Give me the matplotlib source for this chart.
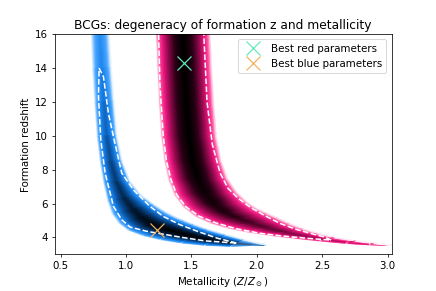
import numpy as np
import matplotlib
matplotlib.use('Agg')
import matplotlib.pyplot as plt
from matplotlib.colors import LinearSegmentedColormap

# Banda azul: borda esquerda/inferior (L) e direita/superior (R), pontos pareados
blue_L_Z = [0.732, 0.742, 0.758, 0.777, 0.800, 0.825, 0.855, 0.890, 0.940, 1.010, 1.120, 1.260, 1.420, 1.600, 1.800, 2.070]
blue_L_zf = [16.0, 14.0, 12.0, 10.0, 8.5, 7.3, 6.2, 5.4, 4.85, 4.42, 4.10, 3.85, 3.65, 3.52, 3.46, 3.56]
blue_R_Z = [0.879, 0.893, 0.913, 0.935, 0.975, 1.035, 1.120, 1.220, 1.300, 1.380, 1.450, 1.520, 1.620, 1.760, 1.900, 2.070]
blue_R_zf = [16.0, 14.0, 12.0, 10.0, 8.5, 7.3, 6.5, 5.95, 5.55, 5.22, 5.0, 4.78, 4.5, 4.18, 3.88, 3.56]
blue_depth = [0.78, 0.72, 0.64, 0.55, 0.46, 0.38, 0.3, 0.22, 0.14, 0.07, 0.02, 0.0, 0.04, 0.1, 0.3, 0.9]

# Banda rosa
red_L_Z = [1.225, 1.236, 1.248, 1.265, 1.29, 1.32, 1.365, 1.43, 1.52, 1.63, 1.76, 1.91, 2.08, 2.27, 2.48, 2.68, 2.86, 3.03]
red_L_zf = [16.0, 14.0, 12.0, 10.0, 8.5, 7.4, 6.5, 5.8, 5.25, 4.85, 4.55, 4.32, 4.12, 3.95, 3.78, 3.64, 3.56, 3.54]
red_R_Z = [1.648, 1.660, 1.675, 1.695, 1.73, 1.78, 1.85, 1.93, 2.01, 2.09, 2.17, 2.26, 2.36, 2.47, 2.60, 2.76, 2.90, 3.03]
red_R_zf = [16.0, 14.0, 12.0, 10.0, 8.6, 7.5, 6.7, 6.1, 5.7, 5.42, 5.15, 4.82, 4.52, 4.25, 4.00, 3.80, 3.66, 3.54]
red_depth = [0.0, 0.0, 0.0, 0.0, 0.0, 0.03, 0.08, 0.14, 0.2, 0.26, 0.32, 0.38, 0.44, 0.5, 0.56, 0.63, 0.72, 0.92]

# Contornos tracejados (1 sigma)
blue_cont_Z = [0.795, 0.828, 0.866, 0.910, 0.968, 1.057, 1.184, 1.286, 1.413, 1.55, 1.70, 1.85,
               1.60, 1.413, 1.159, 1.032, 0.968, 0.905, 0.841, 0.808, 0.790, 0.795]
blue_cont_zf = [14.0, 13.5, 11.34, 9.76, 7.8, 6.81, 5.83, 5.24, 4.75, 4.35, 3.95, 3.66,
                3.80, 4.02, 4.36, 4.61, 5.04, 5.83, 7.8, 9.76, 12.32, 14.0]
red_cont_Z = [1.25, 1.26, 1.285, 1.31, 1.345, 1.39, 1.46, 1.56, 1.69, 1.84, 2.02, 2.20, 2.40, 2.57,
              2.52, 2.42, 2.30, 2.18, 2.07, 1.95, 1.86, 1.78, 1.72, 1.66, 1.62, 1.595]
red_cont_zf = [16.0, 13.0, 10.0, 8.5, 7.4, 6.5, 5.8, 5.25, 4.85, 4.52, 4.25, 4.08, 3.94, 3.84,
               4.02, 4.22, 4.48, 4.82, 5.25, 5.78, 6.3, 6.9, 7.8, 9.5, 12.0, 16.0]

# Melhores parametros
best_red = (1.444, 14.3)
best_blue = (1.236, 4.45)

cmap_blue = LinearSegmentedColormap.from_list('azul', [
    (0.0, 'black'), (0.25, '#021c38'), (0.5, '#0a4f98'), (0.72, '#1a84ee'),
    (0.88, '#4aa8ff'), (1.0, 'white')])
cmap_red = LinearSegmentedColormap.from_list('rosa', [
    (0.0, 'black'), (0.25, '#2a0015'), (0.5, '#900a4c'), (0.7, '#e8157d'),
    (0.86, '#ff4d9e'), (1.0, 'white')])


def banda(ax, LZ, Lzf, RZ, Rzf, depth, cmap, ncol=41, p=1.2):
    LZ, Lzf, RZ, Rzf = map(np.asarray, (LZ, Lzf, RZ, Rzf))
    d = np.asarray(depth)[:, None]
    t = np.linspace(0, 1, ncol)[None, :]
    X = LZ[:, None] + (RZ - LZ)[:, None] * t
    Y = Lzf[:, None] + (Rzf - Lzf)[:, None] * t
    C = d + (1 - d) * np.abs(2 * t - 1) ** p
    ax.pcolormesh(X, Y, C, cmap=cmap, vmin=0, vmax=1, shading='gouraud')


plt.rcParams['font.size'] = 10.8
fig = plt.figure(figsize=(6.4, 291 / 68.125), dpi=68.125)
ax = fig.add_axes([0.125, 0.126, 0.773, 0.756])

banda(ax, blue_L_Z, blue_L_zf, blue_R_Z, blue_R_zf, blue_depth, cmap_blue)
banda(ax, red_L_Z, red_L_zf, red_R_Z, red_R_zf, red_depth, cmap_red)

ax.plot(blue_cont_Z, blue_cont_zf, color='white', ls='--', lw=1.6)
ax.plot(red_cont_Z, red_cont_zf, color='white', ls='--', lw=1.6)

ax.plot(*best_red, 'x', color='#64e8b8', ms=14, mew=1.3, ls='none', label='Best red parameters')
ax.plot(*best_blue, 'x', color='#f5b060', ms=14, mew=1.3, ls='none', label='Best blue parameters')

ax.set_xlim(0.454, 3.03)
ax.set_ylim(3.0, 16)
ax.set_xticks([0.5, 1.0, 1.5, 2.0, 2.5, 3.0])
ax.set_yticks([4, 6, 8, 10, 12, 14, 16])
ax.set_xlabel(r'Metallicity ($Z/Z_\odot$)')
ax.set_ylabel('Formation redshift')
ax.set_title('BCGs: degeneracy of formation z and metallicity', fontsize=13)
ax.legend(loc='upper right')

fig.savefig('out.png', dpi=68.125)
